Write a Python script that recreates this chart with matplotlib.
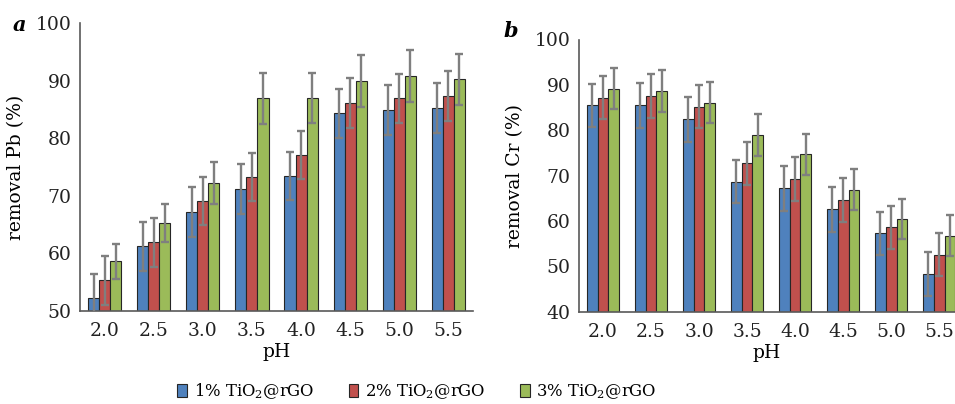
import numpy as np
import matplotlib
matplotlib.use("Agg")
import matplotlib.pyplot as plt

plt.rcParams['font.family'] = 'DejaVu Serif'
plt.rcParams['mathtext.fontset'] = 'dejavuserif'

ph = ["2.0", "2.5", "3.0", "3.5", "4.0", "4.5", "5.0", "5.5"]
series = ["1% TiO$_2$@rGO", "2% TiO$_2$@rGO", "3% TiO$_2$@rGO"]
colors = ["#4F81BD", "#C0504D", "#9BBB59"]

# Pb removal (%)
pb_1 = [52.3, 61.2, 67.2, 71.2, 73.4, 84.3, 84.9, 85.2]
pb_2 = [55.3, 61.9, 69.1, 73.3, 77.1, 86.1, 86.9, 87.3]
pb_3 = [58.6, 65.2, 72.2, 86.9, 87.0, 90.0, 90.8, 90.2]
pb_err_1 = [4.1, 4.3, 4.3, 4.3, 4.2, 4.3, 4.3, 4.3]
pb_err_2 = [4.2, 4.3, 4.2, 4.2, 4.2, 4.4, 4.3, 4.4]
pb_err_3 = [3.0, 3.3, 3.7, 4.4, 4.4, 4.5, 4.5, 4.5]

# Cr removal (%)
cr_1 = [85.5, 85.5, 82.4, 68.7, 67.2, 62.6, 57.3, 48.3]
cr_2 = [87.2, 87.5, 85.2, 72.7, 69.3, 64.6, 58.6, 52.6]
cr_3 = [89.2, 88.7, 86.1, 78.9, 74.7, 66.9, 60.4, 56.8]
cr_err_1 = [4.8, 5.0, 5.0, 4.8, 4.9, 5.0, 4.8, 4.9]
cr_err_2 = [4.8, 4.8, 4.8, 4.7, 4.8, 4.8, 4.8, 4.8]
cr_err_3 = [4.6, 4.6, 4.5, 4.6, 4.5, 4.5, 4.4, 4.5]

fig = plt.figure(figsize=(9.55, 4.04), dpi=100)
ax_a = fig.add_axes([80 / 955, 1 - 311 / 404, 393 / 955, 288 / 404])
ax_b = fig.add_axes([579 / 955, 1 - 311.8 / 404, 376 / 955, 272.3 / 404])


def draw(ax, vals, errs, ylim, yticks, ylabel, xmax):
    x = np.arange(len(ph))
    w = 0.225
    handles = []
    for i, (v, e) in enumerate(zip(vals, errs)):
        b = ax.bar(x + (i - 1) * w, v, w, color=colors[i], edgecolor="#262626",
                   linewidth=0.8, label=series[i], zorder=2)
        ax.errorbar(x + (i - 1) * w, v, yerr=e, fmt="none", ecolor="#7f7f7f",
                    elinewidth=1.7, capsize=3.2, capthick=1.7, zorder=3)
        handles.append(b)
    ax.set_xlim(-0.5, xmax)
    ax.set_ylim(*ylim)
    ax.set_yticks(yticks)
    ax.set_xticks(x)
    ax.set_xticklabels(ph)
    ax.tick_params(length=0, labelsize=13.5, colors="#222222", pad=6)
    ax.tick_params(axis="x", pad=8)
    for s in ["top", "right"]:
        ax.spines[s].set_visible(False)
    for s in ["left", "bottom"]:
        ax.spines[s].set_color("#595959")
        ax.spines[s].set_linewidth(1.2)
    ax.set_xlabel("pH", fontsize=13.5, labelpad=2)
    ax.set_ylabel(ylabel, fontsize=13.5, labelpad=8)
    return handles


handles = draw(ax_a, [pb_1, pb_2, pb_3], [pb_err_1, pb_err_2, pb_err_3],
               (50, 100), [50, 60, 70, 80, 90, 100], "removal Pb (%)", 7.5)
draw(ax_b, [cr_1, cr_2, cr_3], [cr_err_1, cr_err_2, cr_err_3],
     (40, 100), [40, 50, 60, 70, 80, 90, 100], "removal Cr (%)", 7.33)

fig.text(19 / 955, 1 - 25 / 404, "a", fontsize=15, fontweight="bold",
         fontstyle="italic", ha="center", va="center")
fig.text(511 / 955, 1 - 31 / 404, "b", fontsize=15, fontweight="bold",
         fontstyle="italic", ha="center", va="center")

fig.legend(handles, series, loc="center", bbox_to_anchor=(417 / 955, 1 - 391 / 404),
           ncol=3, frameon=False, fontsize=11.8, handlelength=0.6, handleheight=0.9,
           handletextpad=0.4, columnspacing=2.1)

fig.savefig("out.png", dpi=100)
